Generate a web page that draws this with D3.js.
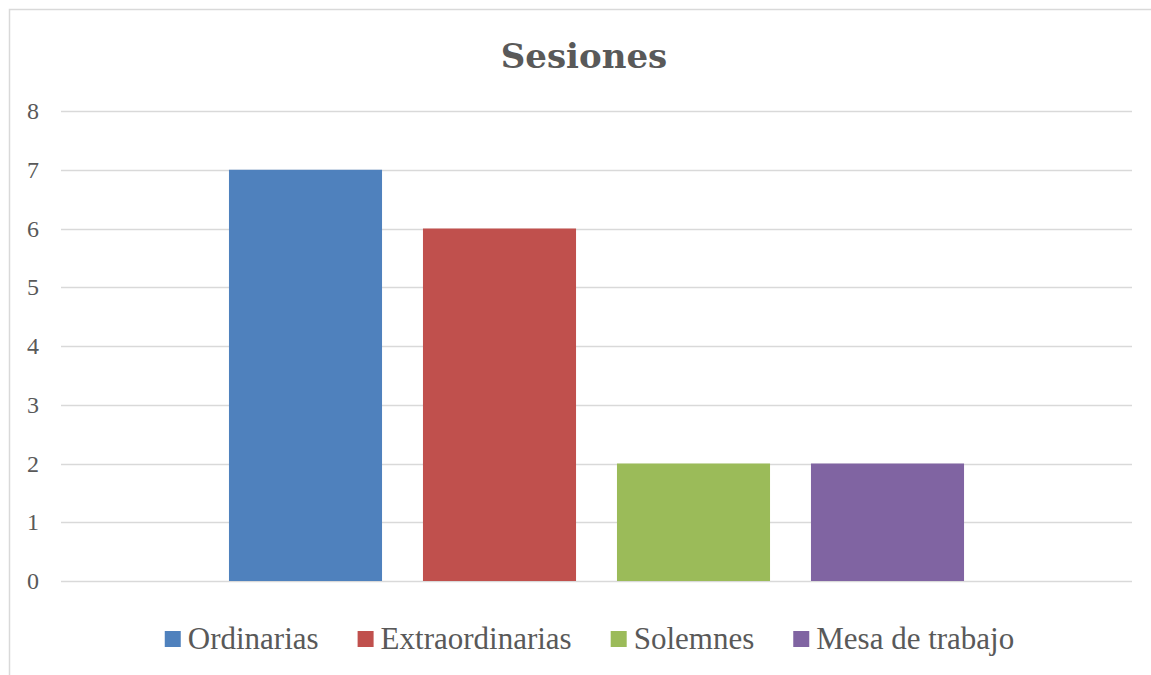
<!DOCTYPE html>
<html lang="es">
<head>
<meta charset="UTF-8">
<title>Sesiones</title>
<script src="https://d3js.org/d3.v7.min.js"></script>
<style>
  body { margin: 0; background: #fff; }
  text { font-family: 'Liberation Serif', 'DejaVu Serif', serif; fill: #595959; }
</style>
</head>
<body>
<div id="chart"></div>
<script>
// data
var series = ["Ordinarias", "Extraordinarias", "Solemnes", "Mesa de trabajo"];
var values = [7, 6, 2, 2];
var colors = ["#4F81BD", "#C0504D", "#9BBB59", "#8064A2"];
var yTicks = [0, 1, 2, 3, 4, 5, 6, 7, 8];
var title = "Sesiones";

var width = 1151, height = 675;
var plot = { left: 61, right: 1132, top: 111, bottom: 581 };

var svg = d3.select("#chart").append("svg")
  .attr("width", width)
  .attr("height", height);

svg.append("rect").attr("width", width).attr("height", height).attr("fill", "#fff");

// chart border (cropped on the right and bottom)
svg.append("path")
  .attr("d", "M9.5," + height + "V9.5H" + width)
  .attr("fill", "none")
  .attr("stroke", "#D9D9D9")
  .attr("stroke-width", 1.5);

var y = d3.scaleLinear().domain([0, 8]).range([plot.bottom, plot.top]);

// one category, bars inside it
var x0 = d3.scaleBand().domain(["Sesiones"]).range([plot.left, plot.right]).paddingOuter(0.2285);
var x1 = d3.scaleBand().domain(series)
  .range([x0("Sesiones"), x0("Sesiones") + x0.bandwidth()])
  .paddingInner(0.211);

// gridlines
svg.append("g").selectAll("line")
  .data(yTicks)
  .enter().append("line")
  .attr("x1", plot.left).attr("x2", plot.right)
  .attr("y1", function (d) { return Math.round(y(d)) + 0.5; })
  .attr("y2", function (d) { return Math.round(y(d)) + 0.5; })
  .attr("stroke", "#D9D9D9")
  .attr("stroke-width", 1.5);

// y axis labels
var yAxis = d3.axisLeft(y).tickValues(yTicks).tickSize(0).tickPadding(0);
var gy = svg.append("g").attr("transform", "translate(39,0)").call(yAxis);
gy.select(".domain").remove();
gy.selectAll("text")
  .attr("font-family", "'Liberation Serif', serif")
  .attr("font-size", 24)
  .attr("fill", "#595959");

// bars
svg.append("g").selectAll("rect")
  .data(values)
  .enter().append("rect")
  .attr("x", function (d, i) { return x1(series[i]); })
  .attr("width", x1.bandwidth())
  .attr("y", function (d) { return y(d); })
  .attr("height", function (d) { return y(0) - y(d); })
  .attr("fill", function (d, i) { return colors[i]; });

// title
svg.append("text")
  .attr("x", 584)
  .attr("y", 68)
  .attr("text-anchor", "middle")
  .style("font-family", "'DejaVu Serif', serif")
  .attr("font-size", 34)
  .attr("font-weight", "bold")
  .text(title);

// legend
var legend = svg.append("g");
var items = legend.selectAll("g")
  .data(series)
  .enter().append("g");
items.append("rect")
  .attr("width", 16).attr("height", 16)
  .attr("y", 631)
  .attr("fill", function (d, i) { return colors[i]; });
items.append("text")
  .attr("x", 23)
  .attr("y", 649)
  .attr("font-size", 31)
  .text(function (d) { return d; });

var pos = 0, gap = 39, starts = [];
items.each(function (d, i) {
  starts.push(pos);
  pos += 23 + this.querySelector("text").getComputedTextLength() + gap;
});
var total = pos - gap;
var lx = 589.5 - total / 2;
items.attr("transform", function (d, i) { return "translate(" + (lx + starts[i]) + ",0)"; });
</script>
</body>
</html>
